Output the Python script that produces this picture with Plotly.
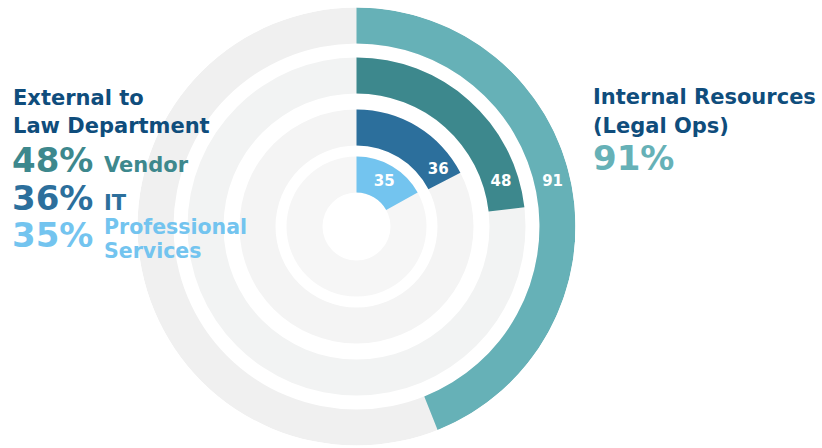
import math
import plotly.graph_objects as go

# ---- data ----
categories = ["Professional Services", "IT", "Vendor", "Internal Resources (Legal Ops)"]
values = [35, 36, 48, 91]
value_labels = ["35", "36", "48", "91"]
full_circle_value = 207  # value that would close a full ring

# ---- styling ----
bar_colors = ["#73c4ef", "#2c6f9c", "#3d888d", "#66b1b7"]
track_colors = ["#f6f6f6", "#f4f4f4", "#f2f3f3", "#f0f0f0"]
ring_base = [34, 81, 133, 183]
ring_thick = 36
R_MAX = 219
FONT = "DejaVu Sans"

W, H = 822, 448
cx, cy = 356.5, 226.5

fig = go.Figure()

# background tracks (full rings)
fig.add_trace(go.Barpolar(
    r=[ring_thick] * 4, base=ring_base, theta=[180] * 4, width=[360] * 4,
    marker=dict(color=track_colors, line=dict(width=0)),
    hoverinfo="skip", showlegend=False,
))

# value arcs
deg = [v * 360.0 / full_circle_value for v in values]
fig.add_trace(go.Barpolar(
    r=[ring_thick] * 4, base=ring_base, theta=[d / 2 for d in deg], width=deg,
    marker=dict(color=bar_colors, line=dict(width=0)),
    customdata=categories, hovertemplate="%{customdata}: %{text}<extra></extra>",
    text=value_labels, showlegend=False,
))

# labels inside arcs, on one horizontal line where the arc allows it
label_h = 44
mid_r = [b + ring_thick / 2 for b in ring_base]
label_theta = [min(90 - math.degrees(math.asin(label_h / r)), d - 7)
               for r, d in zip(mid_r, deg)]
fig.add_trace(go.Scatterpolar(
    r=mid_r, theta=label_theta, mode="text", text=value_labels,
    textfont=dict(family=FONT, size=15, color="white", weight=700),
    hoverinfo="skip", showlegend=False,
))

fig.update_layout(
    width=W, height=H,
    margin=dict(l=0, r=0, t=0, b=0),
    paper_bgcolor="white",
    polar=dict(
        domain=dict(x=[(cx - R_MAX) / W, (cx + R_MAX) / W],
                    y=[(H - cy - R_MAX) / H, (H - cy + R_MAX) / H]),
        bgcolor="rgba(0,0,0,0)",
        barmode="overlay",
        hole=0,
        radialaxis=dict(visible=False, range=[0, R_MAX]),
        angularaxis=dict(visible=False, rotation=90, direction="clockwise"),
    ),
)


def add_text(x_px, yc_px, text, size, color, weight=700):
    fig.add_annotation(
        x=x_px / W, y=1 - yc_px / H, xref="paper", yref="paper",
        xanchor="left", yanchor="middle", showarrow=False, text=text,
        font=dict(family=FONT, size=size, color=color, weight=weight),
    )


dark = "#0f4d7c"
add_text(11, 97.5, "External to", 21, dark)
add_text(11, 125.5, "Law Department", 21, dark)
add_text(10, 160, "48%", 34, bar_colors[2])
add_text(102, 165, "Vendor", 21, bar_colors[2])
add_text(10, 197.5, "36%", 34, bar_colors[1])
add_text(102, 202.5, "IT", 21, bar_colors[1])
add_text(10, 235, "35%", 34, bar_colors[0])
add_text(102, 227, "Professional", 20.5, bar_colors[0])
add_text(102, 251, "Services", 20.5, bar_colors[0])

add_text(591, 97, "Internal Resources", 21, dark)
add_text(591, 125.5, "(Legal Ops)", 21, dark)
add_text(591, 158.5, "91%", 34, bar_colors[3])

fig.write_html("out.html")
